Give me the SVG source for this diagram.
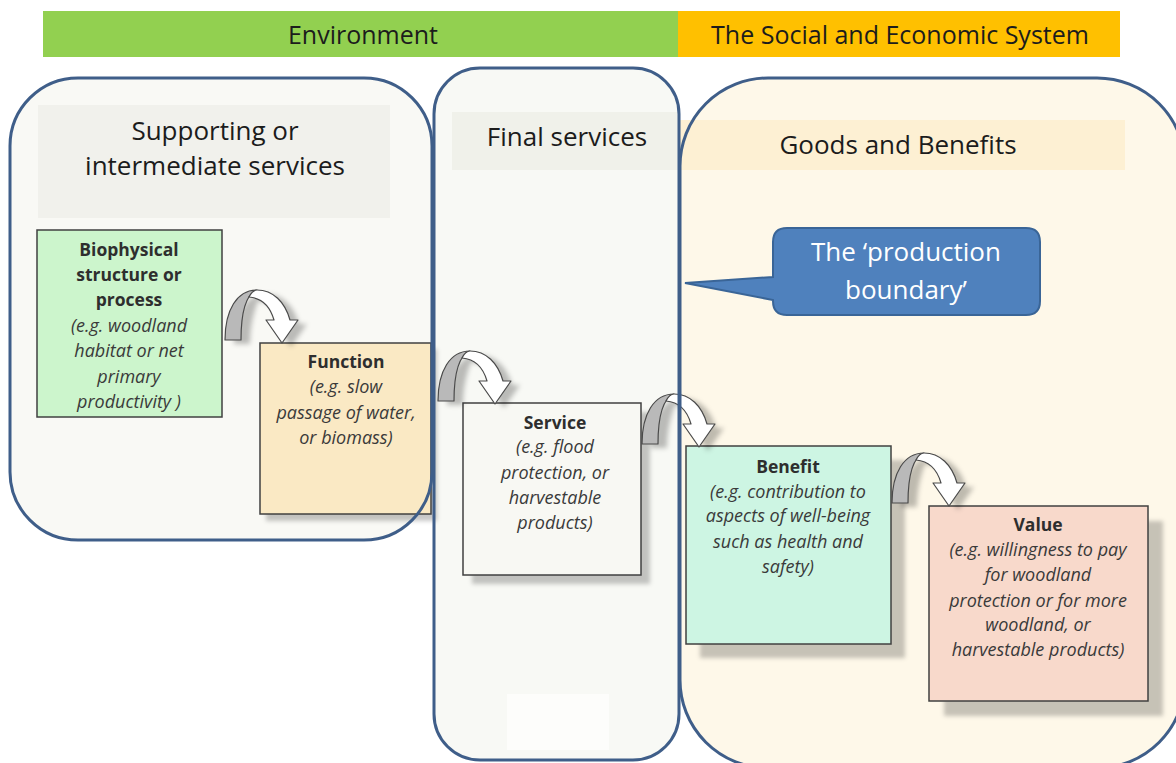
<svg xmlns="http://www.w3.org/2000/svg" width="1176" height="763" viewBox="0 0 1176 763">
<style>
.hdr{font-family:"Open Sans","Liberation Sans",sans-serif;font-size:26px;fill:#1c1c1c;text-anchor:middle}
.bar{font-family:"Open Sans","Liberation Sans",sans-serif;font-size:25px;fill:#1c1c1c;text-anchor:middle}
.t{font-family:"Open Sans","Liberation Sans",sans-serif;font-size:17.5px;font-weight:bold;fill:#2e2e2e;text-anchor:middle}
.i{font-family:"Open Sans","Liberation Sans",sans-serif;font-size:18px;font-style:italic;fill:#3a3a3a;text-anchor:middle}
.co{font-family:"Open Sans","Liberation Sans",sans-serif;font-size:26px;fill:#ffffff;text-anchor:middle}
.cont{fill:none;stroke:#3f5e89;stroke-width:3}
.box{stroke:#404040;stroke-width:1.5}
.shadow{fill:#000;fill-opacity:0.22}
.back{fill:#b9b9b9;stroke:#4a4a4a;stroke-width:1.2;stroke-linejoin:round}
.front{fill:#ffffff;stroke:#4a4a4a;stroke-width:1.2;stroke-linejoin:round}
</style>
<defs>
<filter id="blur" x="-20%" y="-20%" width="140%" height="140%"><feGaussianBlur stdDeviation="2"/></filter>
<filter id="ablur" x="-30%" y="-30%" width="160%" height="160%"><feGaussianBlur stdDeviation="2.5"/></filter>
<linearGradient id="backGrad" x1="0" y1="0" x2="1" y2="0">
<stop offset="0" stop-color="#8f8f8f"/><stop offset="0.6" stop-color="#c4c4c4"/><stop offset="1" stop-color="#dcdcdc"/>
</linearGradient>
<g id="curvedArrow">
<path d="M0,0 C0,-30 12,-50 32,-50 C48,-50 60,-38 65,-20 L73,-20 L57,3 L41,-20 L49,-20 C45,-34 36,-42 24,-43 C20,-32 16,-18 16,0 Z" transform="translate(9,4)" fill="#000" fill-opacity="0.25" filter="url(#ablur)"/>
<path class="back" d="M0,0 C0,-30 12,-50 32,-50 C22,-46 16,-30 16,0 Z" fill="url(#backGrad)"/>
<path class="front" d="M32,-50 C48,-50 60,-38 65,-20 L73,-20 L57,3 L41,-20 L49,-20 C45,-34 36,-42 24,-43 C26,-47 29,-50 32,-50 Z"/>
</g>
</defs>

<rect width="1176" height="763" fill="#ffffff"/>

<g id="topbar">
<rect x="43" y="11" width="636" height="46" fill="#92d050"/>
<rect x="678" y="11" width="442" height="46" fill="#ffc000"/>
<text class="bar" x="363" y="44">Environment</text>
<text class="bar" x="900" y="44">The Social and Economic System</text>
</g>

<g id="containers-fill">
<rect x="10" y="78" width="422" height="462" rx="68" fill="#f9f9f5"/>
<rect x="434" y="68" width="245" height="692" rx="46" fill="#f8f9f5"/>
<rect x="680" y="78" width="505" height="690" rx="88" fill="#fef8e9"/>
<rect x="38" y="105" width="352" height="113" fill="#f1f1ec"/>
<rect x="452" y="112" width="227" height="58" fill="#f0f1ea"/>
<rect x="680" y="120" width="445" height="50" fill="#fdf0d3"/>
<rect x="507" y="694" width="102" height="56" fill="#fdfdfb"/>
</g>

<g id="group-supporting">
<text class="hdr" x="215" y="140">Supporting or</text>
<text class="hdr" x="215" y="175">intermediate services</text>
</g>
<g id="group-final">
<text class="hdr" x="567" y="146">Final services</text>
</g>
<g id="group-goods">
<text class="hdr" x="898" y="154">Goods and Benefits</text>
</g>

<g id="node-biophysical">
<rect class="box" x="37" y="230" width="185" height="187" fill="#ccf5cc"/>
<text class="t" x="129" y="256">Biophysical</text>
<text class="t" x="129" y="281">structure or</text>
<text class="t" x="129" y="306">process</text>
<text class="i" x="129" y="332">(e.g. woodland</text>
<text class="i" x="129" y="357">habitat or net</text>
<text class="i" x="129" y="383">primary</text>
<text class="i" x="129" y="408">productivity )</text>
</g>

<g id="node-function">
<rect class="shadow" x="266" y="349" width="171" height="172" filter="url(#blur)"/>
<rect class="box" x="260" y="343" width="171" height="171" fill="#fae9c4"/>
<text class="t" x="346" y="368">Function</text>
<text class="i" x="346" y="393">(e.g. slow</text>
<text class="i" x="346" y="419">passage of water,</text>
<text class="i" x="346" y="444">or biomass)</text>
</g>

<g id="node-service">
<rect class="shadow" x="472" y="412" width="178" height="172" filter="url(#blur)"/>
<rect class="box" x="463" y="403" width="178" height="172" fill="#f8f8f3"/>
<text class="t" x="555" y="429">Service</text>
<text class="i" x="555" y="453">(e.g. flood</text>
<text class="i" x="555" y="479">protection, or</text>
<text class="i" x="555" y="504">harvestable</text>
<text class="i" x="555" y="529">products)</text>
</g>

<g id="node-benefit">
<rect class="shadow" x="700" y="460" width="205" height="198" filter="url(#blur)"/>
<rect class="box" x="686" y="446" width="205" height="198" fill="#cdf5e3"/>
<text class="t" x="788" y="473">Benefit</text>
<text class="i" x="788" y="498">(e.g. contribution to</text>
<text class="i" x="788" y="522">aspects of well-being</text>
<text class="i" x="788" y="548">such as health and</text>
<text class="i" x="788" y="573">safety)</text>
</g>

<g id="node-value">
<rect class="shadow" x="944" y="521" width="219" height="195" filter="url(#blur)"/>
<rect class="box" x="929" y="506" width="219" height="195" fill="#f8d9cb"/>
<text class="t" x="1038" y="531">Value</text>
<text class="i" x="1038" y="556">(e.g. willingness to pay</text>
<text class="i" x="1038" y="581">for woodland</text>
<text class="i" x="1038" y="607">protection or for more</text>
<text class="i" x="1038" y="631">woodland, or</text>
<text class="i" x="1038" y="656">harvestable products)</text>
</g>

<g id="connectors">
<use href="#curvedArrow" transform="translate(225,340)"/>
<use href="#curvedArrow" transform="translate(438,401)"/>
<use href="#curvedArrow" transform="translate(642,444)"/>
<use href="#curvedArrow" transform="translate(892,503)"/>
</g>

<g id="containers-outline">
<rect class="cont" x="10" y="78" width="422" height="462" rx="68"/>
<rect class="cont" x="434" y="68" width="245" height="692" rx="46"/>
<rect class="cont" x="680" y="78" width="505" height="690" rx="88"/>
</g>

<g id="callout-production-boundary">
<path d="M787,228 H1026 Q1040,228 1040,242 V301 Q1040,315 1026,315 H787 Q773,315 773,301 V300 L685,283 L773,277 V242 Q773,228 787,228 Z" fill="#4f81bd" stroke="#3a6597" stroke-width="2"/>
<text class="co" x="906" y="261">The ‘production</text>
<text class="co" x="906" y="299">boundary’</text>
</g>
</svg>
